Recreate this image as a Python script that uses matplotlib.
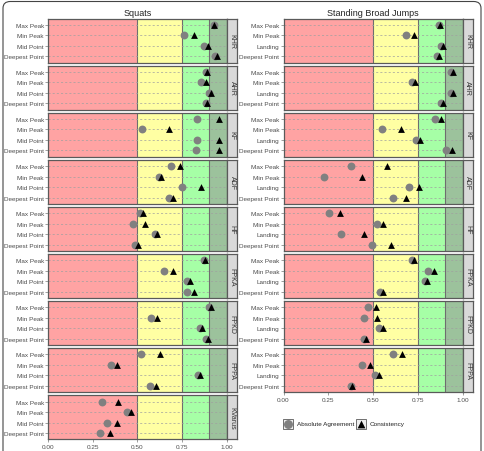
import matplotlib
matplotlib.use('Agg')
import matplotlib.pyplot as plt
from matplotlib.patches import FancyBboxPatch, Rectangle

plt.rcParams['font.family'] = ['Liberation Sans', 'DejaVu Sans']

# data
squat_rows = ['Max Peak', 'Min Peak', 'Mid Point', 'Deepest Point']
jump_rows = ['Max Peak', 'Min Peak', 'Landing', 'Deepest Point']
squat_facets = ['KHR', 'AHR', 'KF', 'ADF', 'HF', 'FPKA', 'FPKD', 'FPPA', 'KVarus']
jump_facets = ['KHR', 'AHR', 'KF', 'ADF', 'HF', 'FPKA', 'FPKD', 'FPPA']

squat_abs = [
    [0.926, 0.759, 0.874, 0.935],
    [0.883, 0.852, 0.898, 0.880],
    [0.830, 0.524, 0.833, 0.826],
    [0.685, 0.620, 0.750, 0.676],
    [0.515, 0.476, 0.596, 0.485],
    [0.870, 0.648, 0.774, 0.778],
    [0.898, 0.574, 0.848, 0.885],
    [0.519, 0.352, 0.839, 0.570],
    [0.300, 0.444, 0.330, 0.293],
]
squat_cons = [
    [0.930, 0.815, 0.893, 0.944],
    [0.889, 0.880, 0.913, 0.889],
    [0.957, 0.676, 0.957, 0.956],
    [0.737, 0.633, 0.852, 0.700],
    [0.528, 0.543, 0.607, 0.504],
    [0.878, 0.700, 0.796, 0.815],
    [0.913, 0.611, 0.861, 0.893],
    [0.626, 0.383, 0.848, 0.604],
    [0.389, 0.463, 0.387, 0.344],
]
jump_abs = [
    [0.868, 0.687, 0.882, 0.858],
    [0.938, 0.720, 0.938, 0.882],
    [0.845, 0.552, 0.739, 0.907],
    [0.379, 0.224, 0.700, 0.612],
    [0.252, 0.524, 0.323, 0.496],
    [0.718, 0.808, 0.793, 0.537],
    [0.472, 0.448, 0.534, 0.448],
    [0.612, 0.440, 0.509, 0.375],
]
jump_cons = [
    [0.873, 0.728, 0.892, 0.868],
    [0.948, 0.737, 0.948, 0.892],
    [0.882, 0.655, 0.761, 0.940],
    [0.578, 0.440, 0.756, 0.687],
    [0.317, 0.556, 0.450, 0.603],
    [0.728, 0.840, 0.804, 0.556],
    [0.515, 0.522, 0.556, 0.463],
    [0.662, 0.485, 0.534, 0.384],
]

bands = [(0, 0.5, '#FFA3A3'), (0.5, 0.75, '#FFFFA3'), (0.75, 0.9, '#A6FFA6'), (0.9, 1.0, '#9CC29C')]
xticks = [0, 0.25, 0.5, 0.75, 1.0]

W, H = 485, 452
fig = plt.figure(figsize=(W / 100, H / 100), dpi=100)


def px_axes(x0, y0, w, h):
    return fig.add_axes([x0 / W, 1 - (y0 + h) / H, w / W, h / H])


def draw_facet(ax, rows, abs_vals, cons_vals, last):
    for lo, hi, c in bands:
        ax.axvspan(lo, hi, color=c, lw=0, zorder=0)
    for xv in (0.5, 0.75, 0.9):
        ax.axvline(xv, color='#6e6e6e', lw=0.8, zorder=1)
    ypos = [4, 3, 2, 1]
    for y in ypos:
        ax.axhline(y, color='#a0a0a0', lw=0.5, ls=(0, (3, 3)), zorder=1)
    ax.scatter(abs_vals, ypos, s=32, c='#808080', marker='o', lw=0, zorder=3)
    ax.scatter(cons_vals, ypos, s=24, c='black', marker='^', lw=0, zorder=4)
    ax.set_xlim(0, 1)
    ax.set_ylim(0.4, 4.6)
    ax.set_yticks(ypos)
    ax.set_yticklabels(rows, fontsize=4.6, color='#4d4d4d')
    ax.tick_params(axis='y', length=2, width=0.5, color='#777777', pad=1)
    ax.set_xticks(xticks)
    if last:
        ax.set_xticklabels(['%.2f' % t for t in xticks], fontsize=4.6, color='#4d4d4d')
        ax.tick_params(axis='x', length=2, width=0.5, color='#777777', pad=1.5)
    else:
        ax.tick_params(axis='x', length=0, labelbottom=False)
    for s in ax.spines.values():
        s.set_color('#5a5a5a')
        s.set_linewidth(0.9)


def draw_strip(x0, y0, name):
    sa = px_axes(x0, y0, 10, 44)
    sa.set_facecolor('#D9D9D9')
    sa.set_xticks([])
    sa.set_yticks([])
    for s in sa.spines.values():
        s.set_color('#5a5a5a')
        s.set_linewidth(0.9)
    sa.text(0.5, 0.5, name, rotation=-90, ha='center', va='center',
            fontsize=5, color='#333333', transform=sa.transAxes)


top0, period, fh = 19.5, 47.1, 44

for i, name in enumerate(squat_facets):
    y0 = top0 + i * period
    ax = px_axes(48, y0, 179, fh)
    draw_facet(ax, squat_rows, squat_abs[i], squat_cons[i], i == len(squat_facets) - 1)
    draw_strip(227, y0, name)

for i, name in enumerate(jump_facets):
    y0 = top0 + i * period
    ax = px_axes(283.5, y0, 179, fh)
    draw_facet(ax, jump_rows, jump_abs[i], jump_cons[i], i == len(jump_facets) - 1)
    draw_strip(462.5, y0, name)

fig.text(137.5 / W, 1 - 13 / H, 'Squats', ha='center', va='center', fontsize=6.5,
         color='#222222', weight='medium')
fig.text(373 / W, 1 - 13 / H, 'Standing Broad Jumps', ha='center', va='center', fontsize=6.5,
         color='#222222', weight='medium')

# legend
lg = px_axes(280, 415, 130, 20)
lg.set_xlim(0, 130)
lg.set_ylim(20, 0)
lg.axis('off')
for kx, mk, col, sz, label in [(3, 'o', '#808080', 32, 'Absolute Agreement'),
                               (76, '^', 'black', 24, 'Consistency')]:
    lg.add_patch(Rectangle((kx, 5), 10, 10, fc='#EEEEEE', ec='#5a5a5a', lw=0.6))
    lg.scatter([kx + 5], [10], s=sz * 1.3, c=col, marker=mk, lw=0, zorder=3)
    lg.text(kx + 14, 10, label, ha='left', va='center', fontsize=4.6, color='#222222')

# outer frame
frame = FancyBboxPatch((3 / W, -0.05), 478 / W, 1.05 - 2.5 / H,
                       boxstyle='round,pad=0,rounding_size=0.015',
                       transform=fig.transFigure, fill=False, ec='#444444', lw=0.8)
fig.patches.append(frame)

fig.savefig('out.png', dpi=100)
